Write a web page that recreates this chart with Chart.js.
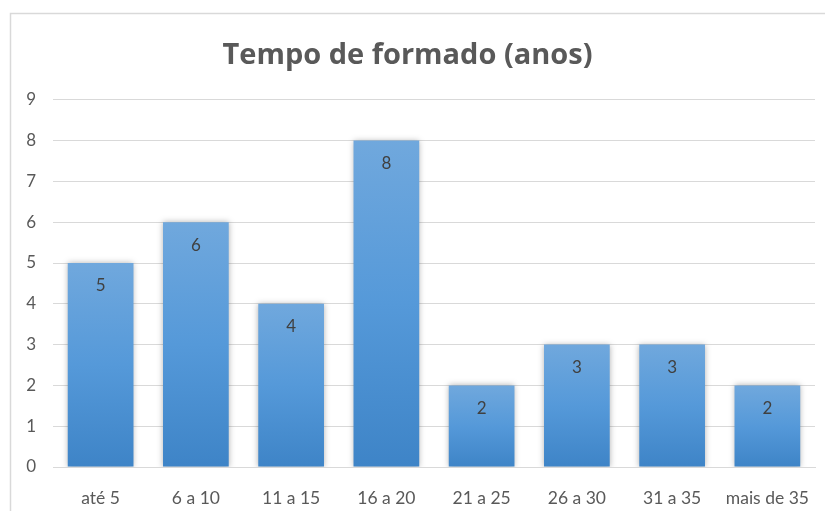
<!DOCTYPE html>
<html>
<head>
<meta charset="utf-8">
<script src="https://cdn.jsdelivr.net/npm/chart.js@4"></script>
<style>
  body { margin: 0; background: #fff; }
  #wrap { width: 825px; height: 511px; }
</style>
</head>
<body>
<div id="wrap"><canvas id="chart" width="825" height="511"></canvas></div>
<script>
const categories = ['até 5', '6 a 10', '11 a 15', '16 a 20', '21 a 25', '26 a 30', '31 a 35', 'mais de 35'];
const counts = [5, 6, 4, 8, 2, 3, 3, 2];
const titleText = 'Tempo de formado (anos)';
const yMax = 9;

const FONT = 'Lato, "Open Sans", sans-serif';
const TITLE_FONT = '"Open Sans", Lato, sans-serif';

// gradiente por barra (claro em cima, escuro embaixo)
function barGradient(ctx) {
    const chart = ctx.chart;
    if (!chart.chartArea || ctx.type !== 'data') return '#5b9bd5';
    const y = chart.scales.y;
    const top = y.getPixelForValue(ctx.parsed.y);
    const base = y.getPixelForValue(0);
    const g = chart.ctx.createLinearGradient(0, top, 0, base);
    g.addColorStop(0, '#70a8dd');
    g.addColorStop(0.5, '#5599d9');
    g.addColorStop(1, '#3e84c7');
    return g;
}

// moldura + sombra + rótulos
const extras = {
    id: 'extras',
    beforeDraw(chart) {
        const c = chart.ctx;
        c.save();
        c.strokeStyle = '#d9d9d9';
        c.lineWidth = 1.5;
        c.beginPath();
        c.moveTo(10.5, 511);
        c.lineTo(10.5, 13.5);
        c.lineTo(825, 13.5);
        c.stroke();
        c.restore();
    },
    beforeDatasetsDraw(chart) {
        const c = chart.ctx;
        c.save();
        c.shadowColor = 'rgba(0,0,0,0.3)';
        c.shadowBlur = 6;
        c.shadowOffsetX = 0;
        c.shadowOffsetY = 0;
    },
    afterDatasetsDraw(chart) {
        const c = chart.ctx;
        c.restore();
        const meta = chart.getDatasetMeta(0);
        c.save();
        c.fillStyle = '#404040';
        c.font = '17px ' + FONT;
        c.textAlign = 'center';
        c.textBaseline = 'middle';
        meta.data.forEach((bar, i) => {
            c.fillText(String(counts[i]), bar.x, bar.y + 23);
        });
        c.restore();
    }
};

new Chart(document.getElementById('chart'), {
    type: 'bar',
    data: {
        labels: categories,
        datasets: [{
            data: counts,
            backgroundColor: barGradient,
            borderWidth: 0,
            categoryPercentage: 1,
            barPercentage: 0.69
        }]
    },
    options: {
        responsive: false,
        animation: false,
        layout: { padding: { left: 0, right: 10, top: 0, bottom: 0 } },
        plugins: {
            legend: { display: false },
            tooltip: { enabled: false },
            title: {
                display: true,
                text: titleText,
                color: '#595959',
                font: { family: TITLE_FONT, size: 29, weight: 'bold', lineHeight: 1.2 },
                padding: { top: 38, bottom: 27 }
            }
        },
        scales: {
            x: {
                grid: { display: false },
                border: { color: '#d9d9d9', width: 1 },
                ticks: { color: '#595959', font: { family: FONT, size: 17.5 }, padding: 13, maxRotation: 0 },
                afterFit(scale) { scale.height = 44; }
            },
            y: {
                min: 0,
                max: yMax,
                grid: { color: '#d9d9d9', lineWidth: 1, drawTicks: false },
                border: { display: false },
                ticks: { stepSize: 1, color: '#595959', font: { family: FONT, size: 17 }, padding: 17 },
                afterFit(scale) { scale.width = 53; }
            }
        }
    },
    plugins: [extras]
});
</script>
</body>
</html>
